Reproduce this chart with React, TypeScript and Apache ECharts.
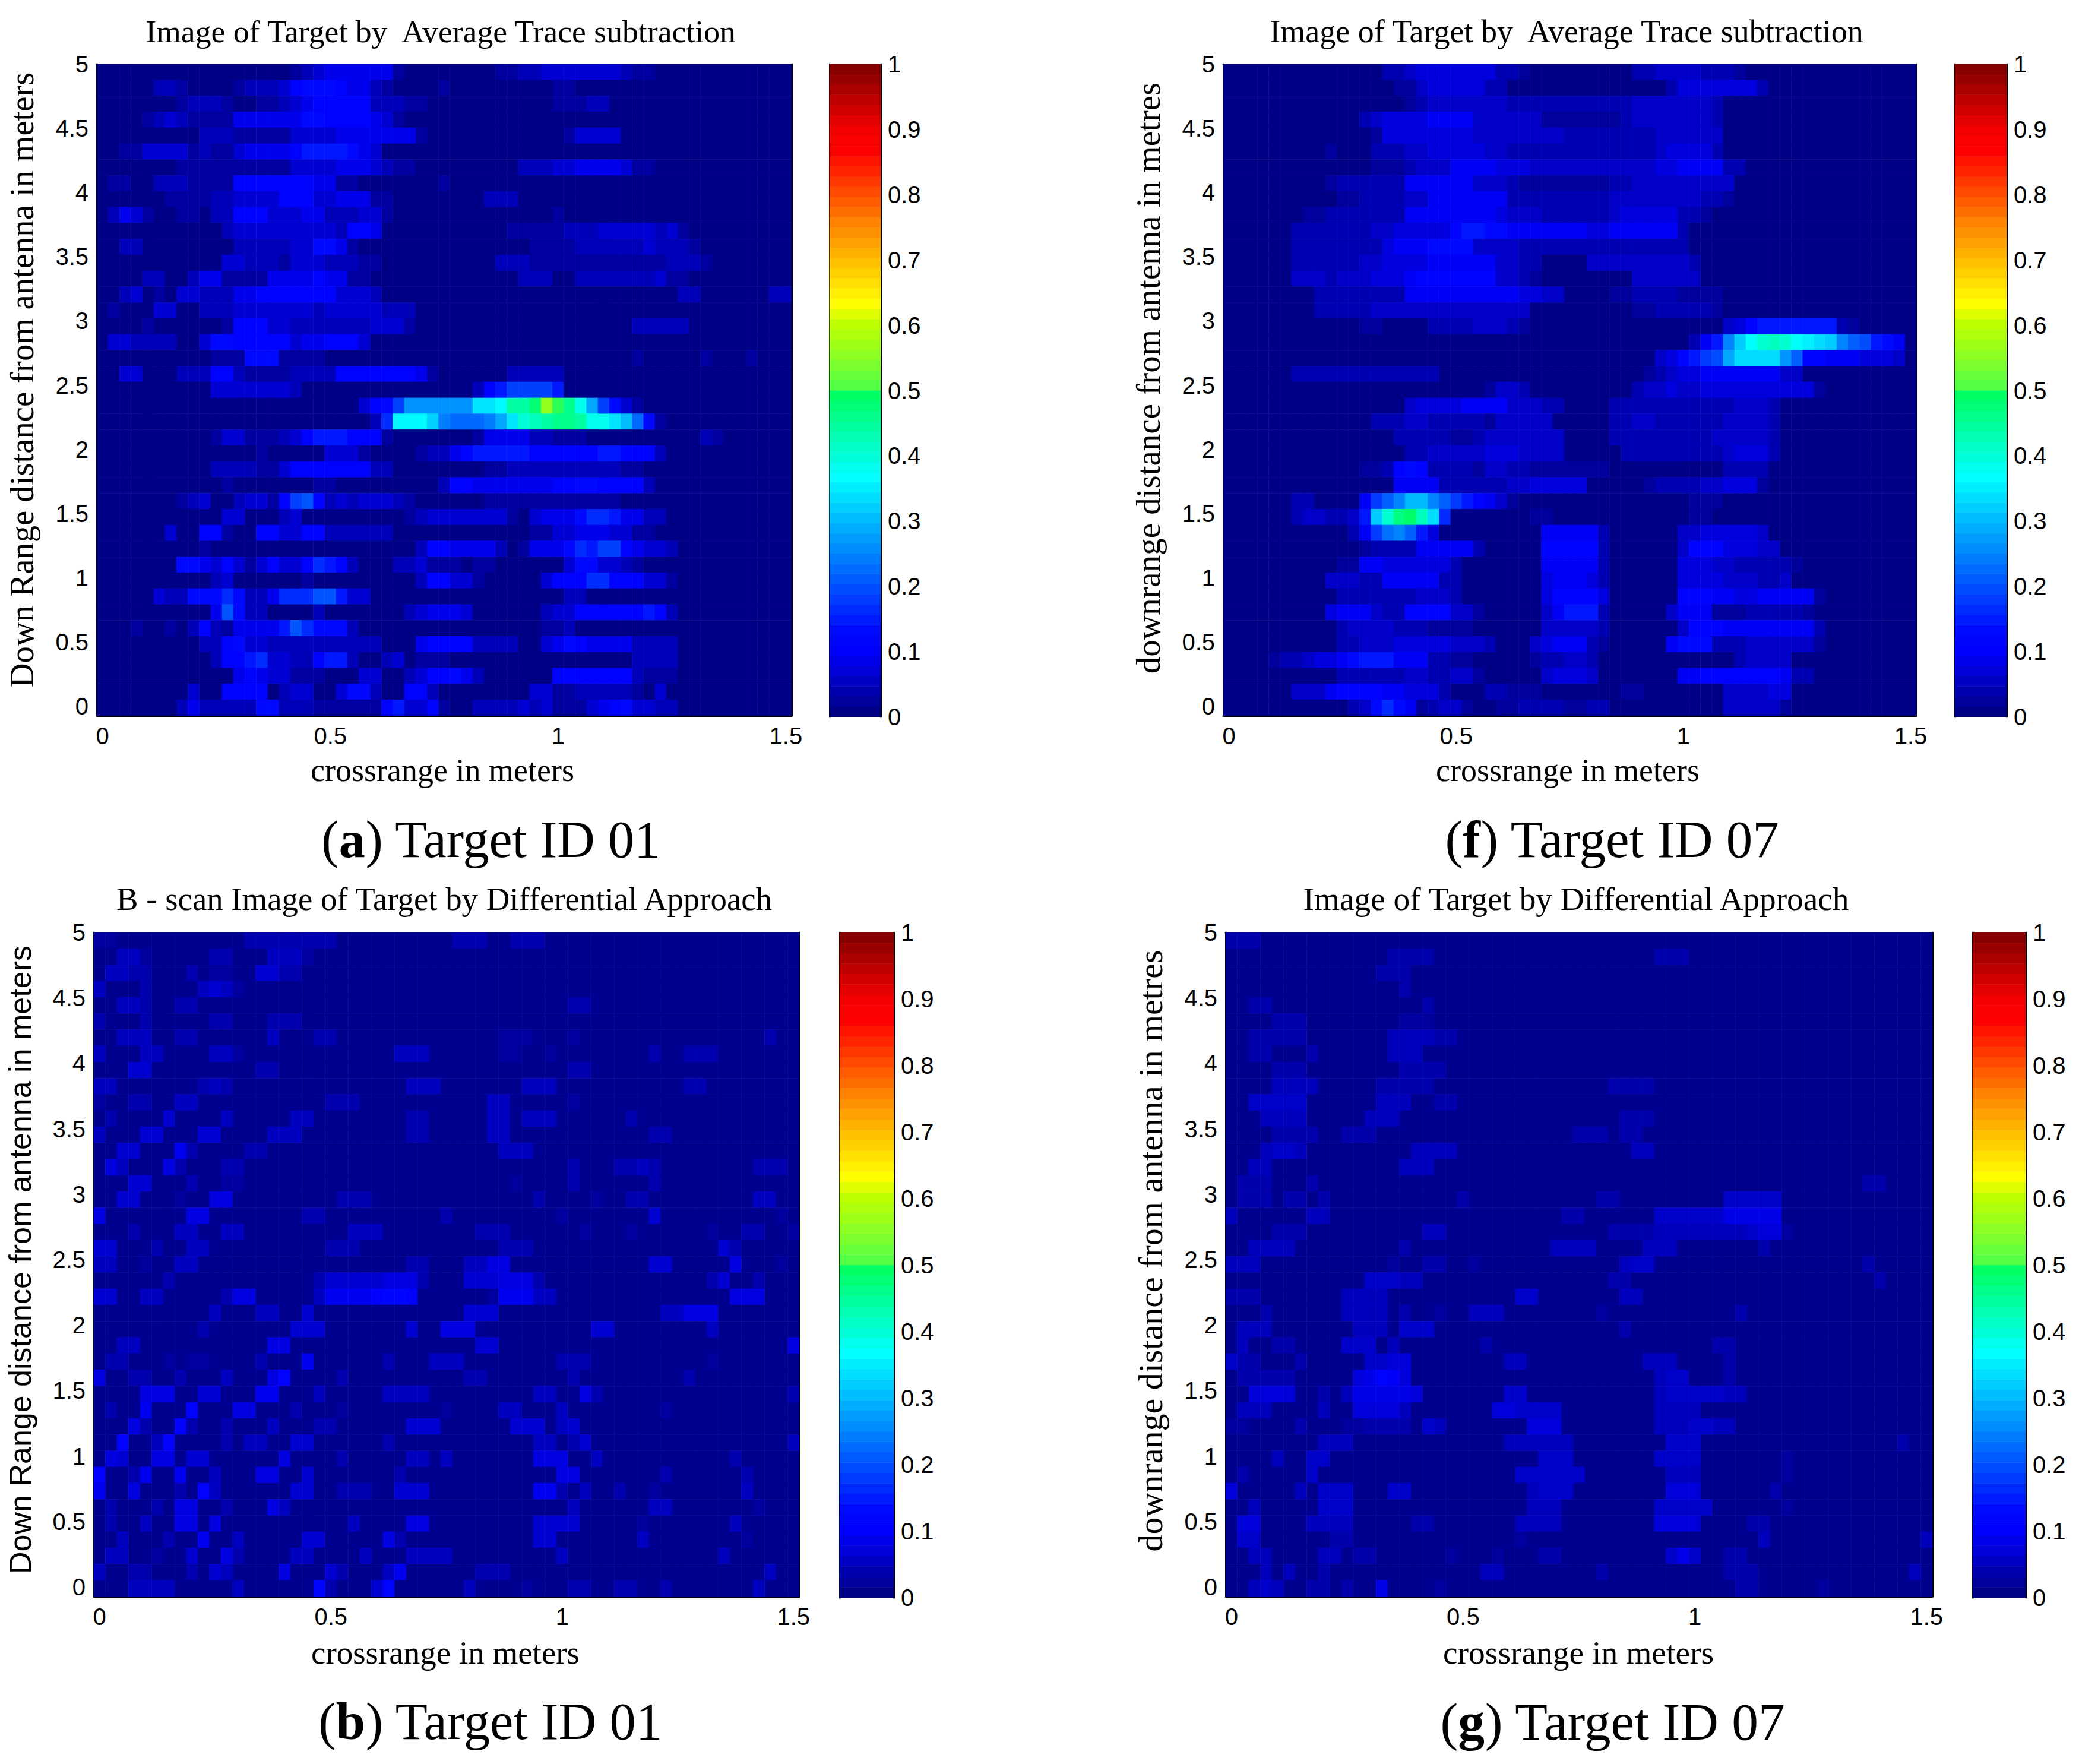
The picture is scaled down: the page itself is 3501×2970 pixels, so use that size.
import React, { useEffect, useRef } from "react";
import * as echarts from "echarts";

// Cell levels, top row first, bottom row last. One base-36 character per cell.
const rowsA = [
"0000000000 0000000123 4444441000 0000011223 3333332110",
"0000022100 0012223566 6544210000 1000000000 1100000000",
"0000000122 2100112345 5555222110 0000000000 1112200000",
"0000123211 1144444466 5555431000",
"0000000002 2211111333 3444444410 0000000000 0133330000",
"0011333312 1134444577 7764300000",
"0000000111 1111111333 3444321100 0000000222 3344443110",
"0110022211 1155555554 4110000000 1000000000",
"0000001111 2233335553 3444110000 0000222000",
"0243100110 2255533344 2223310000 0000000000 1",
"0000000000 0233333333 3255400000 0000001111 1222333332 3100",
"0022000000 0022222336 6410000000 0000000011 1122222232 2210",
"0000000000 0332221333 2221100000 0000022211 1111111111 2221",
"0000220024 4111144445 4411000000 0000000222 0022222223 1100",
"0023010332 2244555555 5333200000 0000000000 0000000000 02200000022",
"0100033002 2233333332 3333322200",
"0000100000 0155533222 2222333100 0000000000 0000000222 22",
"0332222003 6655555344 5553000000",
"0000000000 1116661111 0000000000 0000000000 0000000100 00010001000",
"0033000222 5521111222 2555555541 0000002222 2",
"0000000000 3333333200 0000000000 0002579999 7",
"0000000000 0000000000 0003569ddd dddhhimmos pnje963100",
"0000000000 0000000000 000028iiig cbbbcehklm nnmjjhfb61",
"0000000000 1331112357 7755510000 0001444422 1110000000 0002100",
"0000000000 0000100000 3331000012 2457777755 5555775552",
"0000000000 2222113555 5555220000 0000112222 2222221100",
"0000000000 0100000001 1000000000 2554444444 5566555520",
"0000000123 0023315 9a5 2323332100 0000111111 1111110000",
"0000000000 0330002300 0000000123 3333331034 4468874422",
"0000003005 5100553355 2222220000 0000000011 3344433110",
"0000000001 0000000000 0000000025 5444420144 4687995433 2",
"0000000664 3531353358 7520002231 1101100000 0366332100",
"0000000000 2300000010 0000000025 5331000003 5558855533 1",
"0000032266 6862248 88a a733000000 0000000000 0220000000",
"0000000000 4a62200002 0000000234 4430000002 3355555575 2",
"0001001025 2144447a86 6620000000 0000000001 1200000000",
"0000000002 2563322222 2222200045 5552222003 4654444222 2",
"0000000000 2557833225 7720023011 1000000000 0000000222 2",
"0000000000 0045433111 0003300235 5642000000 5555555211 1",
"0000000030 0555502330 0366200552 0000000033 1122222103",
"0000000242 2222662221 1111157335 1002222323 1113456332 2",
];

const rowsF = [
"0000000000 0000223444 4444221000 0000002233 3322210000",
"0000000000 0000011344 4442200000 0000000002 4444444200",
"0000000000 0000001233 3333322222 2222223333 3332000000",
"0000000000 0023444455 5533333311 1111123333 3332000000",
"0000000000 0001444444 4433333333 2222222233 3333000000",
"0000000001 0002223344 4443322222 2222222234 4442000000",
"0000000000 0001112333 5555444333 3333333344 5555220000",
"0000000001 2222225555 5533321111 1111223333 3333300000",
"0000000000 1122223355 5555522222 2222333333 3322100000",
"0000000112 2222225555 5555433322 2222344444 2210000000",
"0000002222 2223344444 6887755555 5544555555 2000000000",
"0000002222 2222455577 7733332222 2222222222 2",
"0000002222 2233444455 5555332200 0033333333 3200000000",
"0000003332 3334445666 6666332100 0000003333 33",
"0000000022 2222225555 5555554433 0000112222 1111",
"0000000022 2223333333 3333333000 0000001122 2221",
"0000000000 0011000022 2233321000 0000000000 0000346888 8888210",
"0000000000 0000000000 0000000000 0000000000 0258eilnon lkjiecb8750",
"0000000000 0000000000 0000000000 0000000034 68abgjjjjf c6655544430",
"0000002222 2222222220 0000000000 0000000123 4455555553 3",
"0000000000 0000000000 0001332000 0000002334 3344444444 441",
"0000000000 0000003444 4555533322 0000222222 2222233320",
"0000000000 0002223322 2221333330 0000223322 2222333320",
"0000000000 0000022222 1123333333 0000222222 2223333320",
"0000000000 0000002233 3334443333 0000022222 2222344420",
"0000000000 0011267622 2213322111 1111000000 0000222200",
"0000000000 0000055552 2222233444 4400000122 2233444100",
"0000002200 005acehhec a865310000 0000000000 0111",
"0000002332 238inrsoj9 0000000110 0000000000 0110",
"0000000000 025adec840 0000000055 5552000000 3344444300",
"0000000000 0012222555 5520000066 6662000000 3666444330",
"0000000000 1155444444 2000000055 5552000000 4443322222 1",
"0000000003 3322555552 2000000045 5542000000 4444333223",
"0000000000 2222222333 2000000046 6664000000 6665544555 551",
"0000000004 5553226666 3310000035 8882000003 5551112222 21",
"0000000000 2333322211 1100000033 3332000000 3666555555 552",
"0000000000 2233344444 3332000345 5521000005 7772223333 331",
"0000122344 5788855522 1100000122 3320000000 0000023333",
"0000000000 2222223322 3310000034 4430000000 5566666665 22",
"0000003335 6666554442 0002211100 0000011000 0000333344",
"0000000000 0237975123 3100112222 1122000000 0000333331",
];

const rowsB = [
"1100000000 0002222222 2000000000 0222002220",
"0033100000 2200033310",
"0332200020 1100442200",
"3000200003 4310000000",
"0033200220 0000000000 0000000000 0000000000 0220000000",
"2000200000 2200022200",
"0033300220 0000030002 2000000000 0000011100 0100000000 00000000200",
"3000330000 3310000000 0000003330 0000011001 0000000020 02220",
"0004400000 0000220000 0000000000 0000000000 0220000000",
"3300000002 3200000000 0000000333 0000000333 0000000000 0220",
"1002200330 0000000000 2220000000 0000330000 0100000000",
"0200004000 0300000330 0000000220 0000330333 0000002000",
"3000440004 4000033300 0000000220 0000330000 0000000022",
"0044000620 0002200000 0000000000 0000033300",
"0530005200 0220000000 0000000000 0000000000 0200022320 00000002220",
"0004400020 0110000000 0000000000 0000001000 0200000020",
"0044000100 5500000000 0222000000 0000000020 0001002200 00000003300",
"5000000055 0000000022 0000000000 2000000000 1000000040 00000000010",
"0002000330 0330000000 0033300000 0002220000 0010001000 00010022001",
"4400020033 0000000000 2220000000 0000022200 0000000000 00004200000",
"3300100330 0000000000 0000000220 0033550000 0000000044 00000500010",
"0000002000 0000000002 4444455520 0044455520 0000000000 00024002000",
"4400330000 0255000003 6666788700 0000166633 0000000000 00000555000",
"0000000000 3000330040 0000000000 0044400000 0000000003 35550000000",
"0000000002 0000000444 0000000400 5550000000 0004400000 00030000000",
"0033000000 0000055000 0000000000 0004400000 0000000000 00000000005",
"0220001011 0000200060 0000020003 3300000000 2220000000 00010000000",
"5002200200 0300057000 0200000000 0022000000 0200000000 02000",
"0000555004 4000660003 0000033330 0000000033 0052000000 00000000002",
"0200600070 0055000200 0100000000 1000033000 3000000001",
"0005200720 0200030002 2000000444 0000004440 3400000000",
"0070037000 0203300440 0000020000 0000000033 0240000000 00000000003",
"0540055044 0000005000 0200000330 3000000055 5003000000 00000200000",
"7002600600 3000550040 0000002000 0000000000 5500000002 00000020000",
"6005000207 3000000440 0222004440 0000000066 2030020010 00000030000",
"0200020550 0200053000 0000000000 0000000000 0300000033 00000001000",
"0200300550 5000000000 0030000550 0000000044 4400000100 00000300000",
"0030002006 0030000044 0000052000 0000000044 0000000300 00000010000",
"0330010040 0520000330 0003000333 3000000000 3000000000 00003000000",
"3002200020 4300005000 4200036000 0002220000 0000000000 00000000300",
"0003333000 0030000008 2000470000 0030000100 0220022002 00000003000",
];

const rowsG = [
"222",
"0000000000 0000222200 0000000000 0000000222",
"0000000000 0002220000",
"0000000000 0000020000",
"0022000000 0000000200",
"0000222000 0000011100",
"0022222000 0000333322",
"0022000200 0000333000",
"0000222000 0000022220",
"0000333300 0002222200 0000000000 0002222000",
"0044444000 0003330022",
"0003333000 0033300000 0000000000 0000222000",
"0000222200 2220000000 0000000000 2220220000",
"0003443000 0000003333 0000000000 0000033000",
"0033000000 0000033300",
"0222000200 0000000000 0000000000 0000000000 0000000000 00000220000",
"0222022020 0000000000 2000000000 0022000000 0004444400",
"3000000330 0000000000 0000000002 2000000444 4446666600",
"0000222000 0000000330 0000000000 0002222333 3333345510",
"0033330000 0000020000 0000000033 3300003330 0000002000",
"3330000000 0000100220 0100000000 0000344000 0000000000 00000200000",
"0000000000 0044433000 0000000000 0002200000 0000000000 00000020000",
"2220000000 3333000000 0000044000 0000330000",
"0002000000 3333020010 0333000000 0010000000 0000200000",
"0333000000 0333044400 0000000000 0000200000",
"0300220000 4440300000 0020000000 0000000000 0022000000",
"4220002000 0044550000 0000330000 0000003330 0002000000",
"0222220000 0568750000 0000000000 0000000344 0002000000",
"0055550020 3666665000 0000440000 0000000344 4443300000",
"0333000030 0555530000 0005544440 0000000333 3000",
"1100002000 1122220430 0000005550 0000000333 4433000000",
"0000000033 3000000000 0000333333 0000000044 4000000000 00000000200",
"0000300440 0000000000 0000000444 0000000444 4000000010",
"0200000400 0000000000 0000044444 4000000033 3000000010",
"5000003044 4000440000 0000003444 0000000055 5000000200",
"0030000044 4000000000 0000003330 0000000444 4400000010",
"0550000333 3000002200 0000033330 0000000555 5000022000",
"0440000002 2000000000 0000010000 0000000000 0000003000 00000000003",
"0033000033 0220000001 0001000220 0000000046 4002200000",
"0003030020 0000000000 0033000000 0020000000 0002220000 00000000030",
"0034300220 2006000010 0000000000 0000000000 0000220000 01000000000",
];

const crossrange = Array.from({ length: 61 }, (_, i) => String((i * 25) / 1000));
const downrange = Array.from({ length: 41 }, (_, i) => String((i * 125) / 1000));
const crossTicks = ["0", "0.5", "1", "1.5"];

const jetStops: [number, number, number, number][] = [
  [0, 0, 0, 135], [6, 0, 0, 255], [8, 0, 10, 255], [23, 0, 255, 255], [31, 0, 255, 100],
  [32, 85, 255, 70], [34, 125, 255, 45], [38, 190, 255, 0], [40, 255, 255, 0],
  [48, 255, 130, 0], [55, 255, 0, 0], [57, 245, 0, 0], [63, 135, 0, 0],
];
const jet = Array.from({ length: 64 }, (_, i) => {
  const k = jetStops.findIndex((s) => s[0] >= i);
  const b = jetStops[k];
  const a = jetStops[Math.max(k - 1, 0)];
  const t = b[0] === a[0] ? 0 : (i - a[0]) / (b[0] - a[0]);
  const c = [1, 2, 3].map((n) => Math.round(a[n] + (b[n] - a[n]) * t));
  return `rgb(${c[0]},${c[1]},${c[2]})`;
});

const decode = (rows: string[], step: number, base: number) => {
  const out: [number, number, number][] = [];
  rows.forEach((row, r) => {
    const s = row.replace(/ /g, "").padEnd(61, "0").slice(0, 61);
    for (let c = 0; c < 61; c++) out.push([c, 40 - r, base + parseInt(s[c], 36) * step]);
  });
  return out;
};

const SERIF = "Liberation Serif";
const SANS = "Liberation Sans";

const panels = [
  { rows: rowsA, step: 0.02, base: 0, l: 163, r: 1333, t: 108, b: 1205, y0: 1189, cl: 1397, cr: 1483, title: "Image of Target by  Average Trace subtraction", tx: 742, ty: 53, tf: 53.7, ylabel: "Down Range distance from antenna in meters", yf: SERIF, ys: 56.7, yshift: 18, nx: 745, ny: 1297, nf: 54, tag: "a", id: "Target ID 01", cx: 827, cy: 1413, cf: 88 },
  { rows: rowsF, step: 0.0175, base: 0, l: 2060, r: 3227, t: 108, b: 1205, y0: 1189, cl: 3292, cr: 3379, title: "Image of Target by  Average Trace subtraction", tx: 2638, ty: 53, tf: 54, ylabel: "downrange distance from antenna in metres", yf: SERIF, ys: 57, yshift: 24, nx: 2640, ny: 1297, nf: 54, tag: "f", id: "Target ID 07", cx: 2715, cy: 1413, cf: 89 },
  { rows: rowsB, step: 0.013, base: 0.006, l: 158, r: 1346, t: 1570, b: 2688, y0: 2672, cl: 1414, cr: 1505, title: "B - scan Image of Target by Differential Approach", tx: 748, ty: 1513, tf: 54.8, ylabel: "Down Range distance from antenna in meters", yf: SANS, ys: 52, yshift: 0, nx: 750, ny: 2782, nf: 55, tag: "b", id: "Target ID 01", cx: 826, cy: 2898, cf: 88.5 },
  { rows: rowsG, step: 0.012, base: 0.006, l: 2064, r: 3254, t: 1570, b: 2688, y0: 2672, cl: 3322, cr: 3411, title: "Image of Target by Differential Approach", tx: 2654, ty: 1513, tf: 55.3, ylabel: "downrange distance from antenna in metres", yf: SERIF, ys: 58, yshift: 30, nx: 2658, ny: 2782, nf: 55.5, tag: "g", id: "Target ID 07", cx: 2716, cy: 2898, cf: 89.5 },
];

const W = 3501;
const H = 2970;

function buildOption() {
  const grid: any[] = [];
  const xAxis: any[] = [];
  const yAxis: any[] = [];
  const series: any[] = [];
  const graphic: any[] = [];
  const line = { show: true, onZero: false, lineStyle: { color: "#000", width: 3 } };
  const thinLine = { ...line, lineStyle: { color: "#000", width: 2 } };
  const isCross = (i: number) => crossTicks.includes(crossrange[i]);
  const xTick = {
    show: true, inside: true, length: 10, alignWithLabel: true, interval: (i: number) => isCross(i),
    lineStyle: { color: "#000", width: 2 },
  };
  const vTick = { show: true, inside: true, length: 10, lineStyle: { color: "#000", width: 2 } };
  const label = { fontFamily: SANS, fontSize: 40, color: "#000" };
  const none = { show: false };

  panels.forEach((p) => {
    // heat cells
    const g = grid.length;
    grid.push({ left: p.l, top: p.t, width: p.r - p.l, height: p.b - p.t, outerBoundsMode: "none" });
    const xi = xAxis.length;
    const yi = yAxis.length;
    xAxis.push({
      gridIndex: g, type: "category", position: "bottom", data: crossrange, axisLine: line, axisTick: xTick,
      splitLine: none, axisLabel: { ...label, margin: 14, interval: (i: number) => isCross(i) },
    });
    xAxis.push({
      gridIndex: g, type: "category", position: "top", data: crossrange, axisLine: line, axisTick: xTick,
      splitLine: none, axisLabel: none,
    });
    yAxis.push({
      gridIndex: g, type: "category", position: "left", data: downrange, axisLine: line, axisTick: none,
      splitLine: none, axisLabel: none,
    });
    yAxis.push({
      gridIndex: g, type: "category", position: "right", data: downrange, axisLine: line, axisTick: none,
      splitLine: none, axisLabel: none,
    });
    series.push({
      type: "heatmap", xAxisIndex: xi, yAxisIndex: yi, data: decode(p.rows, p.step, p.base), progressive: 0, silent: true,
      itemStyle: { borderWidth: 0 },
    });

    // down-range scale: its 0 lies above the bottom edge of the picture
    const sg = grid.length;
    grid.push({ left: p.l, top: p.t, width: p.r - p.l, height: p.y0 - p.t, outerBoundsMode: "none" });
    xAxis.push({ gridIndex: sg, type: "category", data: ["s"], show: false });
    yAxis.push({
      gridIndex: sg, type: "value", min: 0, max: 5, interval: 0.5, position: "left",
      axisLine: none, axisTick: vTick, splitLine: none, axisLabel: { ...label, margin: 14 },
      name: p.ylabel, nameLocation: "middle", nameRotate: 90, nameGap: 98, nameMoveOverlap: false,
      nameTextStyle: { fontFamily: p.yf, fontSize: p.ys, color: "#000", padding: [0, 0, 0, p.yshift] },
    });
    yAxis.push({
      gridIndex: sg, type: "value", min: 0, max: 5, interval: 0.5, position: "right",
      axisLine: none, axisTick: vTick, splitLine: none, axisLabel: none,
    });

    // colour bar
    const cg = grid.length;
    grid.push({ left: p.cl, top: p.t, width: p.cr - p.cl, height: p.b - p.t + 2, outerBoundsMode: "none" });
    const cx = xAxis.length;
    const cy = yAxis.length;
    xAxis.push({
      gridIndex: cg, type: "category", data: ["c"], position: "bottom", axisLine: thinLine,
      axisTick: none, axisLabel: none, splitLine: none,
    });
    xAxis.push({
      gridIndex: cg, type: "category", data: ["c"], position: "top", axisLine: thinLine,
      axisTick: none, axisLabel: none, splitLine: none,
    });
    yAxis.push({
      gridIndex: cg, type: "category", data: jet.map((_, i) => String(i)), position: "left", show: false,
    });
    yAxis.push({
      gridIndex: cg, type: "value", min: 0, max: 1, interval: 0.1, position: "left", axisLine: line, axisTick: vTick,
      axisLabel: none, splitLine: none,
    });
    yAxis.push({
      gridIndex: cg, type: "value", min: 0, max: 1, interval: 0.1, position: "right", axisLine: line, axisTick: vTick,
      axisLabel: { ...label, margin: 12 }, splitLine: none,
    });
    series.push({
      type: "heatmap", xAxisIndex: cx, yAxisIndex: cy, silent: true, itemStyle: { borderWidth: 0 },
      data: jet.map((_, i) => [0, i, i / 63]),
    });

    graphic.push({
      type: "text", x: p.tx, y: p.ty,
      style: { text: p.title, fontFamily: SERIF, fontSize: p.tf, fill: "#000", align: "center", verticalAlign: "middle" },
    });
    graphic.push({
      type: "text", x: p.nx, y: p.ny,
      style: { text: "crossrange in meters", fontFamily: SERIF, fontSize: p.nf, fill: "#000", align: "center", verticalAlign: "middle" },
    });
    graphic.push({
      type: "text", x: p.cx, y: p.cy,
      style: {
        text: `({b|${p.tag}}) ${p.id}`, fontFamily: SERIF, fontSize: p.cf, fill: "#000", align: "center", verticalAlign: "middle",
        rich: { b: { fontFamily: SERIF, fontSize: p.cf, fontWeight: "bold", fill: "#000" } },
      },
    });
  });

  return {
    animation: false,
    backgroundColor: "#fff",
    grid, xAxis, yAxis, series,
    graphic: { elements: graphic },
    visualMap: {
      show: false, type: "continuous", min: 0, max: 1, dimension: 2, calculable: false,
      seriesIndex: series.map((_, i) => i), inRange: { color: jet },
    },
  };
}

export default function App() {
  const ref = useRef<HTMLDivElement>(null);
  useEffect(() => {
    document.body.style.margin = "0";
    const chart = echarts.init(ref.current!, undefined, { renderer: "svg", width: W, height: H });
    chart.setOption(buildOption() as any);
    return () => chart.dispose();
  }, []);
  return <div ref={ref} style={{ width: W, height: H, background: "#fff" }} />;
}
